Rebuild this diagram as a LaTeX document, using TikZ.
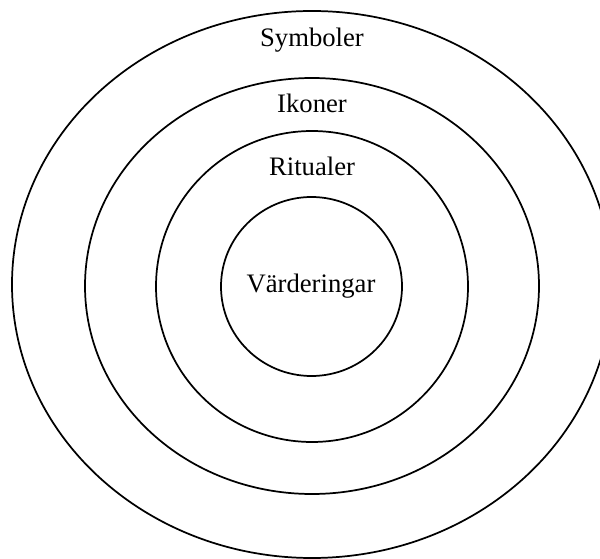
\documentclass[tikz,border=0pt]{standalone}
\usepackage{fontspec}
\setmainfont{Liberation Serif}
\begin{document}
\begin{tikzpicture}[x=0.75pt,y=-0.75pt,
  ring/.style={draw=black,line width=1.3pt},
  lbl/.style={font=\fontsize{20}{24}\selectfont,anchor=base,inner sep=0pt}]
  \clip (0,0) rectangle (600,559);
  \useasboundingbox (0,0) rectangle (600,559);
  % concentric layers
  \draw[ring] (312,284.5) ellipse [x radius=300, y radius=273.5];
  \draw[ring] (312,286) ellipse [x radius=227, y radius=208];
  \draw[ring] (312,286.5) ellipse [x radius=156, y radius=155.5];
  \draw[ring] (311.5,286.5) ellipse [x radius=90.5, y radius=89.5];
  % layer names
  \node[lbl] (symboler) at (312,47) {Symboler};
  \node[lbl] (ikoner) at (312,113) {Ikoner};
  \node[lbl] (ritualer) at (312,176) {Ritualer};
  \node[lbl] (varderingar) at (311,293) {Värderingar};
\end{tikzpicture}
\end{document}
